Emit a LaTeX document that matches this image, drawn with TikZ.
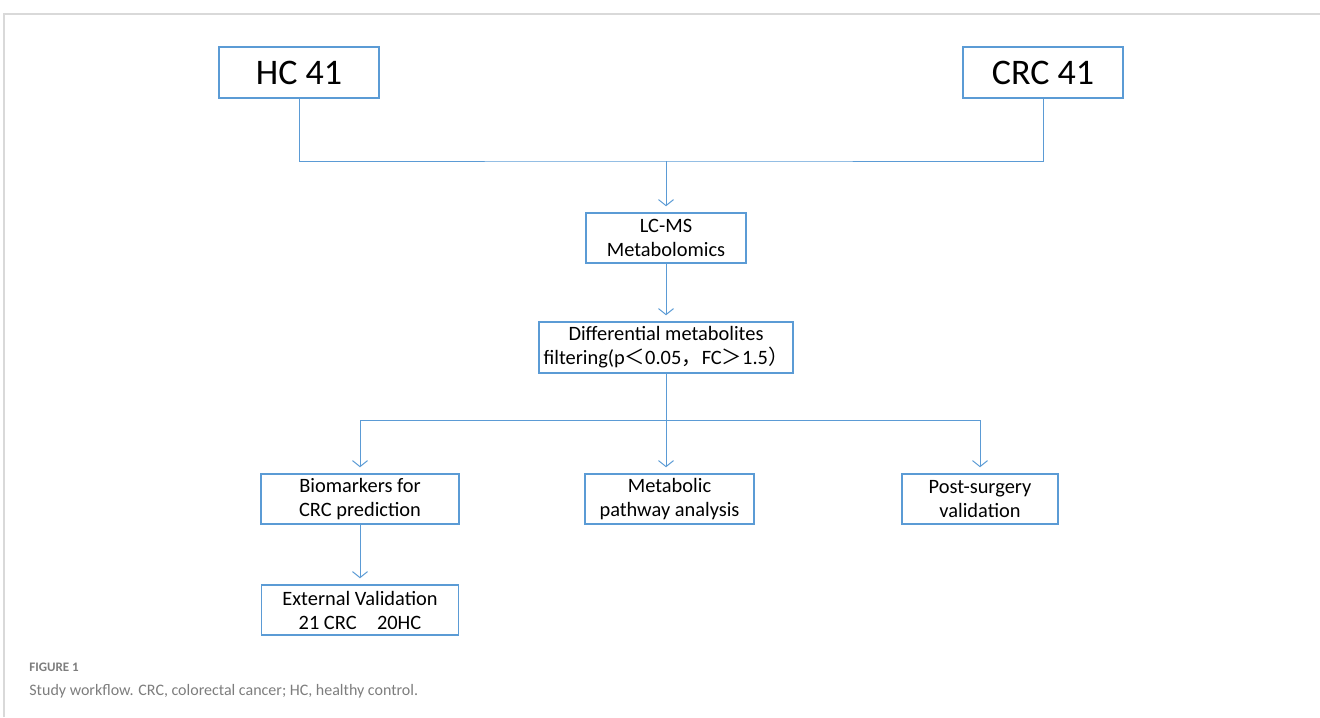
\documentclass[tikz,border=0pt]{standalone}
\usepackage{fontspec}
\setmainfont{Carlito}
\newfontfamily\cjk{Noto Sans CJK SC}
\usetikzlibrary{arrows.meta}
\definecolor{boxblue}{RGB}{91,155,213}
\definecolor{framegray}{RGB}{217,217,217}
\definecolor{capgray}{RGB}{125,125,125}
\begin{document}
\begin{tikzpicture}[x=0.5pt,y=-0.5pt,>={Straight Barb[length=3pt,width=7.5pt]},
    box/.style={draw=boxblue,line width=0.75pt,inner sep=0pt,align=center,
        font=\fontsize{10.2}{12}\selectfont},
    link/.style={boxblue,line width=0.5pt},
    arr/.style={link,->,shorten >=3pt}]
\useasboundingbox (0,0) rectangle (1320,717);
\draw[framegray,line width=1pt] (4,717)--(4,14)--(1320,14);
\node[box,minimum width=80pt,minimum height=25.5pt,font=\fontsize{18}{20}\selectfont] (hc) at (299,72.5) {HC 41};
\node[box,minimum width=80pt,minimum height=25.5pt,font=\fontsize{18}{20}\selectfont] (crc) at (1043,72.5) {CRC 41};
\node[box,minimum width=80pt,minimum height=25pt] (lcms) at (666,238) {LC-MS\\Metabolomics};
\node[box,minimum width=127pt,minimum height=25.5pt] (diff) at (666,347.5) {Differential metabolites\\filtering(p{\cjk ＜}0.05{\cjk ，}FC{\cjk ＞}1.5{\cjk ）}};
\node[box,minimum width=99pt,minimum height=25pt] (bio) at (360,499) {Biomarkers for\\CRC prediction};
\node[box,minimum width=84.5pt,minimum height=25pt] (path) at (669.5,499) {Metabolic\\pathway analysis};
\node[box,minimum width=78pt,minimum height=25pt] (post) at (980,499) {Post-surgery\\validation};
\node[box,minimum width=98.5pt,minimum height=25pt] (ext) at (360,610) {External Validation\\21 CRC\quad 20HC};
\coordinate (join) at (666,161);
\coordinate (split) at (666,420);
\draw[link] (hc.south) |- (join) -| (crc.south);
\draw[arr] (join) -- (lcms.north);
\draw[arr] (lcms.south) -- (diff.north);
\draw[link] (diff.south) -- (split);
\draw[arr] (split) -| (bio.north);
\draw[arr] (split) -| (post.north);
\draw[arr] (split) -- (split |- path.north);
\draw[arr] (bio.south) -- (ext.north);
\node[anchor=base west,text=capgray,inner sep=0pt,font=\fontsize{6.5}{8}\selectfont\bfseries] (fig) at (29,671) {FIGURE 1};
\node[anchor=base west,text=capgray,inner sep=0pt,font=\fontsize{8}{10}\selectfont] (cap) at (29,695) {Study workflow. CRC, colorectal cancer; HC, healthy control.};
\end{tikzpicture}
\end{document}
